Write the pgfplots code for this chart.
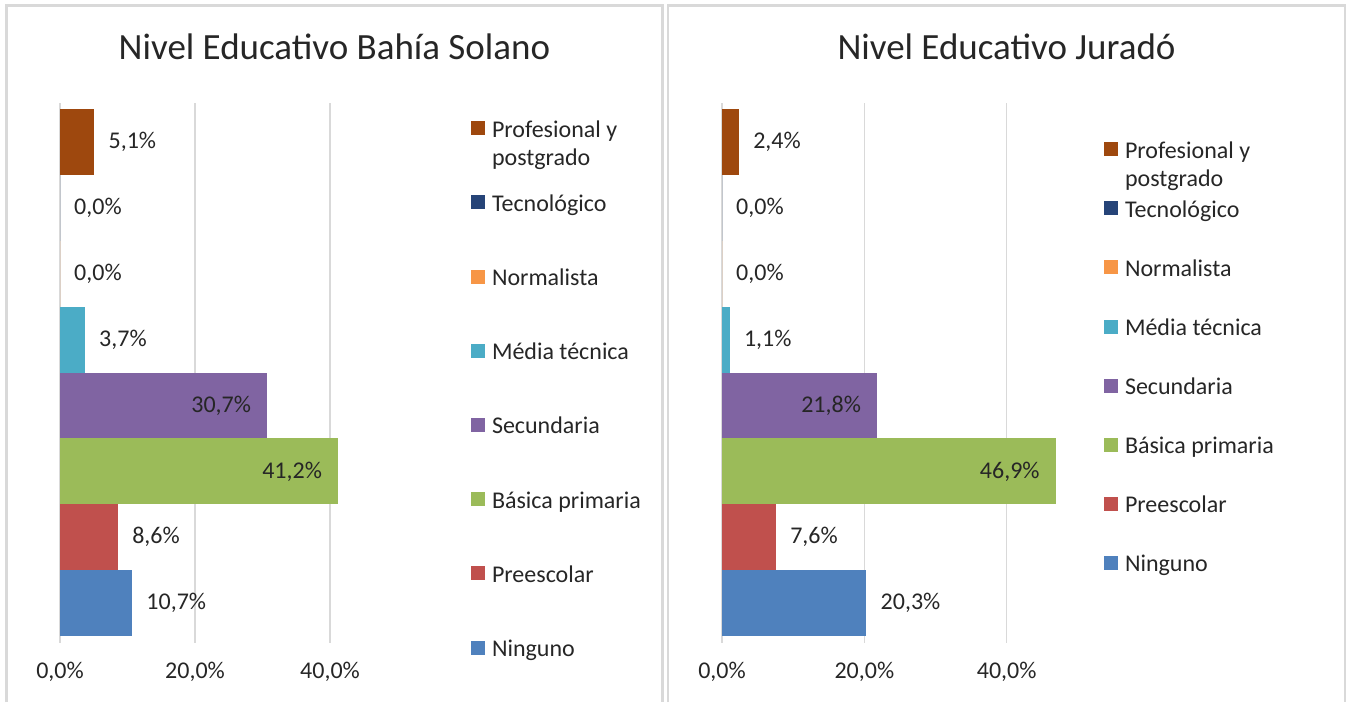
\documentclass[border=0pt]{standalone}
\usepackage{pgfplots}
\pgfplotsset{compat=1.18}
\usepackage{fontspec}
\setmainfont{Carlito}

\definecolor{cNin}{HTML}{4F81BD}
\definecolor{cPre}{HTML}{C0504D}
\definecolor{cBas}{HTML}{9BBB59}
\definecolor{cSec}{HTML}{8064A2}
\definecolor{cMed}{HTML}{4BACC6}
\definecolor{cNor}{HTML}{F79646}
\definecolor{cTec}{HTML}{264478}
\definecolor{cPro}{HTML}{9E480E}
\definecolor{gridgray}{HTML}{D9D9D9}
\definecolor{txt}{HTML}{262626}

\newcommand\LE[1]{\raisebox{0pt}[17pt][4pt]{#1}}
\newcommand\lbl{\fontsize{24}{28}\selectfont}

\pgfplotsset{
  panel/.style={
    scale only axis, xbar, bar width=1, clip=false,
    height=539.4pt, xmin=0, xmax=50, ymin=-0.602, ymax=7.59,
    enlargelimits=false, ytick=\empty,
    xtick={0,20,40}, xticklabels={{0,0\%},{20,0\%},{40,0\%}},
    xmajorgrids, major grid style={line width=1.6pt, gridgray},
    axis line style={draw=none}, tick style={draw=none},
    xticklabel style={anchor=center, yshift=-29pt, font=\lbl, text=txt},
    /pgf/number format/assume math mode=true,
    point meta=x,
    nodes near coords={\pgfmathprintnumber[fixed,fixed zerofill,precision=1,use comma]{\pgfplotspointmeta}\%},
    nodes near coords style={font=\lbl, text=txt, inner sep=0pt},
    legend cell align=left,
    legend image code/.code={\fill[#1] (0pt,-6pt) rectangle (14pt,8pt); \path (21pt,0pt);},
    legend style={draw=none, fill=none, inner sep=0pt, outer sep=0pt, font=\lbl, text=txt,
      anchor=north west, nodes={inner sep=0pt}},
  },
  bar/.style={fill=#1, draw=none, bar shift=0pt},
  out/.style={every node near coord/.append style={anchor=west, xshift=14pt}},
  in/.style={every node near coord/.append style={anchor=east, xshift=-16pt}},
}

\begin{document}
\begin{tikzpicture}
\path[use as bounding box] (0,0) rectangle (1348pt,702pt);
\draw[line width=2.5pt, gridgray] (6.5pt,0pt) -- (6.5pt,696.5pt) -- (662.5pt,696.5pt) -- (662.5pt,0pt);
\draw[line width=2.5pt, gridgray] (668pt,0pt) -- (668pt,696.5pt) -- (1345pt,696.5pt) -- (1345pt,0pt);
\node[anchor=base, font=\fontsize{37}{44}\selectfont, text=txt] at (334.5pt,642pt) {Nivel Educativo Bahía Solano};
\node[anchor=base, font=\fontsize{37}{44}\selectfont, text=txt] at (1006.5pt,642pt) {Nivel Educativo Juradó};

\begin{axis}[panel, at={(60pt,59.3pt)}, anchor=south west, width=337.5pt,
  legend style={at={(1.2178,0.9690)}, row sep=55.7pt}]
\addplot[bar=cPro, out] coordinates {(5.1,7)};
\addplot[bar=cTec, out] coordinates {(0,6)};
\addplot[bar=cNor, out] coordinates {(0,5)};
\addplot[bar=cMed, out] coordinates {(3.7,4)};
\addplot[bar=cSec, in] coordinates {(30.7,3)};
\addplot[bar=cBas, in] coordinates {(41.2,2)};
\addplot[bar=cPre, out] coordinates {(8.6,1)};
\addplot[bar=cNin, out] coordinates {(10.7,0)};
\legend{\LE{\begin{tabular}[t]{@{}l@{}}Profesional y\\postgrado\end{tabular}},\LE{Tecnológico},\LE{Normalista},\LE{Média técnica},\LE{Secundaria},\LE{Básica primaria},\LE{Preescolar},\LE{Ninguno}}
\end{axis}

\begin{axis}[panel, at={(722pt,59.3pt)}, anchor=south west, width=355.85pt,
  legend style={at={(1.0735,0.9301)}, row sep=40.6pt}]
\addplot[bar=cPro, out] coordinates {(2.4,7)};
\addplot[bar=cTec, out] coordinates {(0,6)};
\addplot[bar=cNor, out] coordinates {(0,5)};
\addplot[bar=cMed, out] coordinates {(1.1,4)};
\addplot[bar=cSec, in] coordinates {(21.8,3)};
\addplot[bar=cBas, in] coordinates {(46.9,2)};
\addplot[bar=cPre, out] coordinates {(7.6,1)};
\addplot[bar=cNin, out] coordinates {(20.3,0)};
\legend{\LE{\begin{tabular}[t]{@{}l@{}}Profesional y\\postgrado\end{tabular}},\LE{Tecnológico},\LE{Normalista},\LE{Média técnica},\LE{Secundaria},\LE{Básica primaria},\LE{Preescolar},\LE{Ninguno}}
\end{axis}
\end{tikzpicture}
\end{document}
